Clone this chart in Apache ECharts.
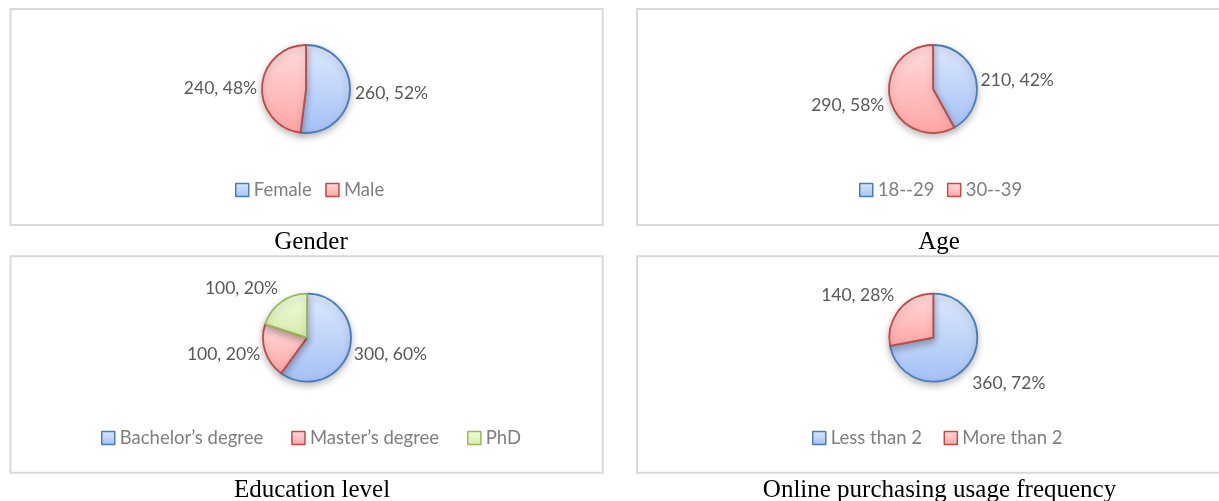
<!DOCTYPE html>
<html>
<head>
<meta charset="utf-8">
<script src="https://cdn.jsdelivr.net/npm/echarts@6/dist/echarts.min.js"></script>
<style>
html,body{margin:0;padding:0;background:#ffffff;}
#chart{width:1219px;height:501px;}
</style>
</head>
<body>
<div id="chart"></div>
<script>
// ---- data ----
const genderCategories = ['Female', 'Male'];
const genderValues = [260, 240];
const ageCategories = ['18--29', '30--39'];
const ageValues = [210, 290];
const educationCategories = ['Bachelor\u2019s degree', 'Master\u2019s degree', 'PhD'];
const educationValues = [300, 100, 100];
const frequencyCategories = ['Less than 2', 'More than 2'];
const frequencyValues = [360, 140];
const chartTitles = ['Gender', 'Age', 'Education level', 'Online purchasing usage frequency'];

// ---- styles ----
const sliceStyles = [
  { top: '#dee9fd', bottom: '#a3c1f5', border: '#4a7ebb' },
  { top: '#ffdcdc', bottom: '#ffa5a5', border: '#be4b48' },
  { top: '#f0fadc', bottom: '#d5eeab', border: '#98b954' }
];
const labelFont = 'Lato, "Open Sans", sans-serif';

const panels = [
  { cats: genderCategories, vals: genderValues, box: [10.5, 9, 592.2, 216], center: [306, 89],
    legendLeft: 235, legendMid: 190, gap: 13.5, titleX: 311, titleTop: 229.5, nudge: [[0, 2], [0, 2]] },
  { cats: ageCategories, vals: ageValues, box: [637, 9, 600, 216], center: [933, 89],
    legendLeft: 859, legendMid: 190, gap: 12.5, titleX: 939, titleTop: 229.5, nudge: [[0, 2], [-1, 5]] },
  { cats: educationCategories, vals: educationValues, box: [10.5, 256.3, 592.2, 216.4], center: [307, 337.7],
    legendLeft: 101, legendMid: 438, gap: 28, titleX: 312, titleTop: 478, nudge: [[0, 3], [0, 3], [2, -14]] },
  { cats: frequencyCategories, vals: frequencyValues, box: [637, 256.3, 600, 216.4], center: [933.3, 337.7],
    legendLeft: 812, legendMid: 438, gap: 21.5, titleX: 939.5, titleTop: 478, nudge: [[0, 18], [0, -14]] }
];

function fillFor(i) {
  const s = sliceStyles[i];
  return { type: 'linear', x: 0, y: 0, x2: 0, y2: 1,
    colorStops: [{ offset: 0, color: s.top }, { offset: 1, color: s.bottom }] };
}

const series = [], legends = [], titles = [], graphics = [];
panels.forEach((p, pi) => {
  graphics.push({
    type: 'rect', silent: true, z: 0,
    shape: { x: p.box[0], y: p.box[1], width: p.box[2], height: p.box[3] },
    style: { fill: 'none', stroke: '#d9d9d9', lineWidth: 2 }
  });
  series.push({
    type: 'pie',
    name: chartTitles[pi],
    center: p.center,
    radius: 44,
    startAngle: 90,
    clockwise: true,
    avoidLabelOverlap: false,
    percentPrecision: 0,
    animation: false,
    silent: true,
    label: {
      show: true, position: 'outside', formatter: '{c}, {d}%',
      color: '#595959', fontFamily: labelFont, fontSize: 17.5, distanceToLabelLine: 5
    },
    labelLine: { show: false, length: 0, length2: 0 },
    labelLayout: function (params) {
      const n = p.nudge[params.dataIndex];
      return { dx: n[0], dy: n[1] };
    },
    emphasis: { disabled: true },
    data: p.vals.map((v, i) => ({
      name: p.cats[i], value: v,
      itemStyle: {
        color: fillFor(i), borderColor: sliceStyles[i].border, borderWidth: 1.8,
        shadowBlur: 7, shadowColor: 'rgba(0,0,0,0.25)', shadowOffsetY: 3
      }
    }))
  });
  legends.push({
    seriesIndex: pi,
    data: p.cats,
    orient: 'horizontal',
    left: p.legendLeft,
    top: p.legendMid - 10,
    padding: 0,
    itemWidth: 13,
    itemHeight: 13,
    itemGap: p.gap,
    icon: 'rect',
    selectedMode: false,
    itemStyle: { borderWidth: 1.5, shadowBlur: 0, shadowOffsetY: 0, shadowColor: 'transparent' },
    textStyle: { color: '#7f7f7f', fontFamily: labelFont, fontSize: 18.5, lineHeight: 20 }
  });
  titles.push({
    text: chartTitles[pi],
    left: p.titleX,
    top: p.titleTop,
    textAlign: 'center',
    padding: 0,
    textStyle: { fontFamily: '"Liberation Serif", "Times New Roman", serif', fontSize: 25, fontWeight: 'normal', color: '#000000', lineHeight: 25 }
  });
});

const chart = echarts.init(document.getElementById('chart'), null, { renderer: 'canvas' });
chart.setOption({
  backgroundColor: '#ffffff',
  animation: false,
  title: titles,
  legend: legends,
  graphic: graphics,
  series: series
});
</script>
</body>
</html>
